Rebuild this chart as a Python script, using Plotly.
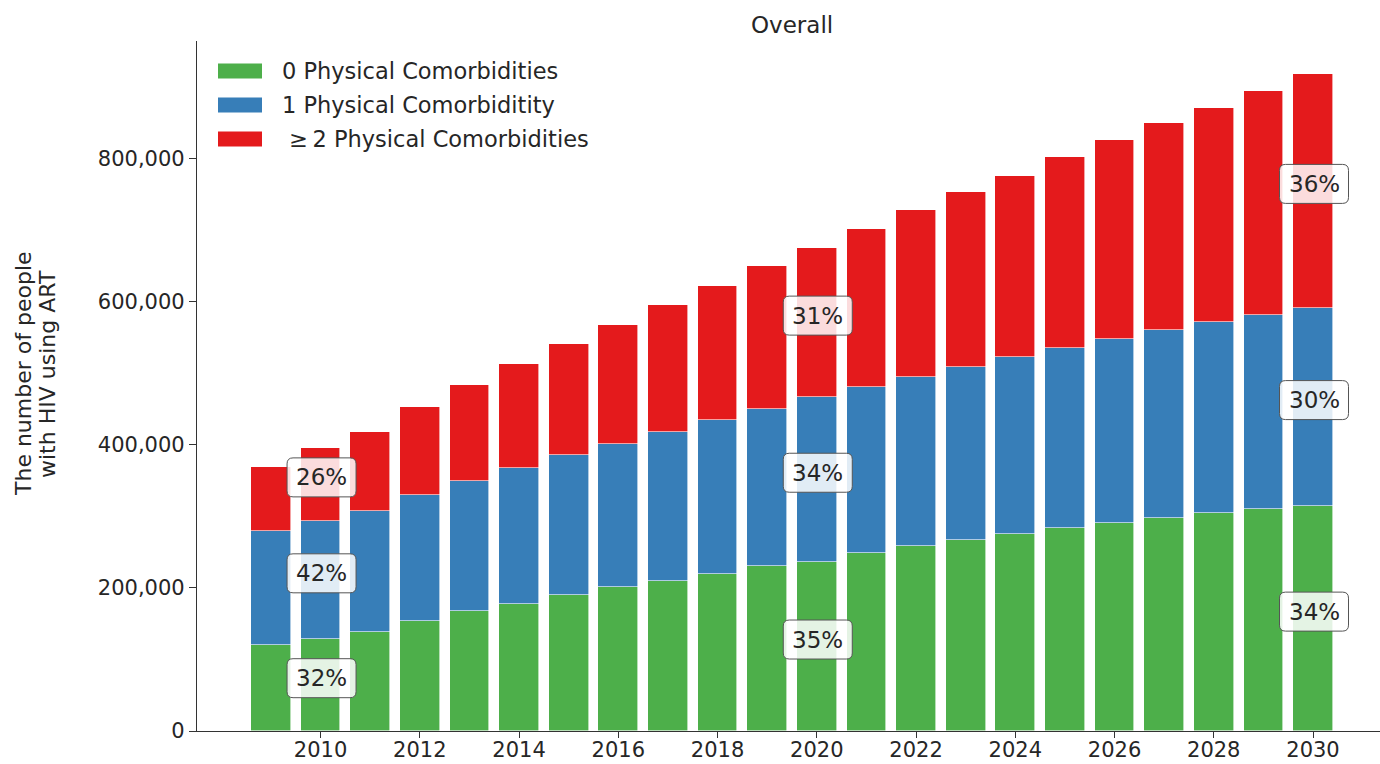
import plotly.graph_objects as go

years = list(range(2009, 2031))
zero_comorb = [120000, 128000, 138000, 153000, 167000, 178000, 190000, 201000, 210000, 220000, 230000,
               236000, 249000, 259000, 267000, 275000, 283000, 291000, 297000, 304000, 310000, 314000]
one_comorb = [160000, 165000, 169000, 176000, 182000, 190000, 195000, 200000, 208000, 215000, 220000,
              230000, 232000, 236000, 242000, 248000, 252000, 257000, 263000, 267000, 271000, 277000]
two_plus_comorb = [89000, 103000, 110000, 123000, 135000, 145000, 156000, 166000, 177000, 187000, 200000,
                   209000, 220000, 233000, 244000, 253000, 267000, 277000, 289000, 300000, 313000, 327000]
series_names = ["0 Physical Comorbidities", "1 Physical Comorbiditity", "\u00a0\u2265\u20092 Physical Comorbidities"]
colors = ["#4daf4a", "#377eb8", "#e41a1c"]
label_years = [2010, 2020, 2030]
y_ticks = [0, 200000, 400000, 600000, 800000]
x_ticks = list(range(2010, 2031, 2))
title_text = "Overall"
ylabel_lines = ["The number of people", "with HIV using ART"]

FONT = "DejaVu Sans, Verdana, sans-serif"
TXT = "#262626"
W, H = 1380, 764
L, R, T, B = 197, 0, 41, 33
pw, ph = W - L - R, H - T - B


def px(xr):
    return (xr - L) / pw


def py(yr):
    return (H - B - yr) / ph


def rrect(cx, cy, hw, hh, r):
    x0, x1, y0, y1 = cx - hw, cx + hw, cy - hh, cy + hh
    return (f"M{x0 + r},{y0} L{x1 - r},{y0} Q{x1},{y0} {x1},{y0 + r} "
            f"L{x1},{y1 - r} Q{x1},{y1} {x1 - r},{y1} L{x0 + r},{y1} Q{x0},{y1} {x0},{y1 - r} "
            f"L{x0},{y0 + r} Q{x0},{y0} {x0 + r},{y0} Z")


fig = go.Figure()
series = [zero_comorb, one_comorb, two_plus_comorb]
for name, vals, col in zip(series_names, series, colors):
    fig.add_trace(go.Bar(x=years, y=vals, name=name, width=0.8,
                         marker=dict(color=col, line=dict(color="white", width=0.6)),
                         showlegend=False))

totals = [a + b + c for a, b, c in zip(*series)]
ymax = max(totals) * 1.05

annotations = []
shapes = []
LBL_SHIFT = 7
for yr in label_years:
    i = years.index(yr)
    base = 0
    for vals in series:
        v = vals[i]
        mid = base + v / 2
        pct = round(v / totals[i] * 100)
        shapes.append(dict(type="path", xref="x", yref="y", xsizemode="pixel", ysizemode="pixel",
                           xanchor=yr, yanchor=mid, path=rrect(1, LBL_SHIFT, 34.5, 19.5, 6),
                           fillcolor="rgba(255,255,255,0.85)", line=dict(color="#555555", width=1),
                           layer="above"))
        annotations.append(dict(x=yr, y=mid, xref="x", yref="y", text=f"{pct}%", showarrow=False,
                                yshift=LBL_SHIFT, xshift=1, font=dict(family=FONT, size=23, color=TXT)))
        base += v

# title
annotations.append(dict(x=px(792), y=py(25), xref="paper", yref="paper",
                        text=title_text, showarrow=False, xanchor="center", yanchor="middle",
                        font=dict(family=FONT, size=23, color=TXT)))
# y axis title (two lines)
for line, xc in zip(ylabel_lines, [23, 47]):
    annotations.append(dict(x=px(xc), y=py(374), xref="paper", yref="paper",
                            text=line, textangle=-90,
                            showarrow=False, xanchor="center", yanchor="middle",
                            font=dict(family=FONT, size=22, color=TXT)))

# legend (manual)
row_y = [71, 105, 139]
for name, col, ry in zip(series_names, colors, row_y):
    yc = py(ry)
    shapes.append(dict(type="rect", xref="paper", yref="paper",
                       x0=px(218), x1=px(262),
                       y0=yc - 7.5 / ph, y1=yc + 7.5 / ph,
                       fillcolor=col, line=dict(width=0)))
    annotations.append(dict(x=px(280), y=yc, xref="paper", yref="paper", text=name,
                            showarrow=False, xanchor="left", yanchor="middle",
                            font=dict(family=FONT, size=22.5, color=TXT)))

fig.update_layout(
    width=W, height=H, barmode="stack", plot_bgcolor="white", paper_bgcolor="white",
    margin=dict(l=L, r=R, t=T, b=B, pad=0, autoexpand=False),
    annotations=annotations, shapes=shapes, bargap=0,
    font=dict(family=FONT, size=21, color=TXT),
)
fig.update_xaxes(range=[2007.51, 2031.35], tickvals=x_ticks, ticks="outside", ticklen=6, tickwidth=1.25,
                 tickcolor="#333333", showline=True, linecolor="#333333", linewidth=1.25, automargin=False,
                 ticklabelstandoff=-6,
                 showgrid=False, zeroline=False, tickfont=dict(family=FONT, size=21, color=TXT))
fig.update_yaxes(range=[0, ymax], tickvals=y_ticks, tickformat=",", ticks="outside", ticklen=7,
                 tickwidth=1.25, tickcolor="#333333", showline=True, linecolor="#333333", linewidth=1.25,
                 automargin=False,
                 showgrid=False, zeroline=False, tickfont=dict(family=FONT, size=21, color=TXT))

fig.write_html("out.html", config=dict(displayModeBar=False),
               post_script="document.body.style.margin='0';document.documentElement.style.overflow='hidden';")
